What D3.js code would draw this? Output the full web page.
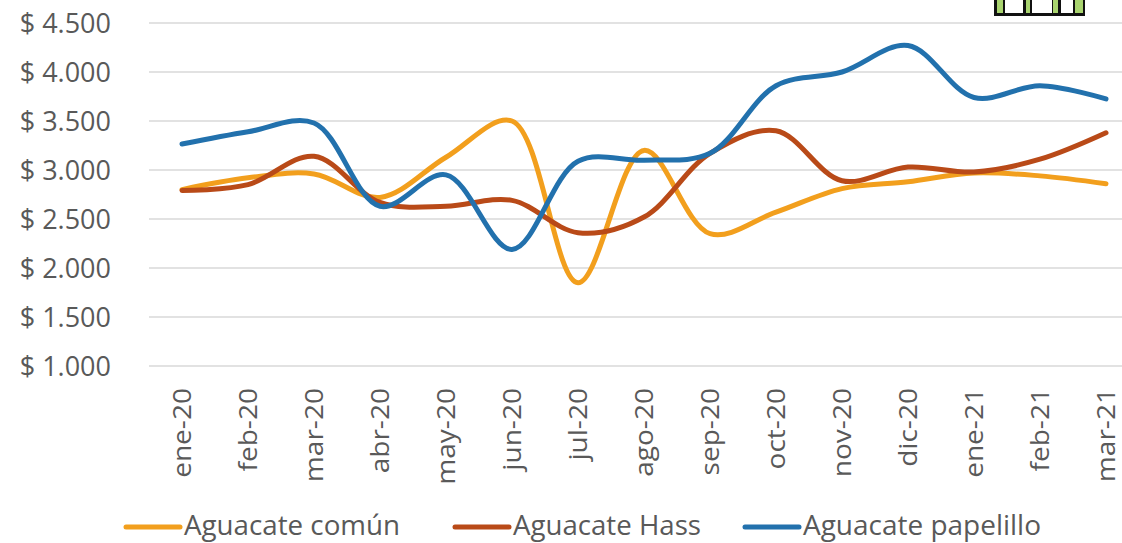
<!DOCTYPE html>
<html>
<head>
<meta charset="utf-8">
<script src="https://cdn.jsdelivr.net/npm/d3@7"></script>
<style>
  body { margin: 0; background: #fff; }
  text { font-family: "Open Sans", sans-serif; fill: #595959; }
</style>
</head>
<body>
<div id="chart"></div>
<script>
var months = ["ene-20", "feb-20", "mar-20", "abr-20", "may-20", "jun-20", "jul-20", "ago-20",
    "sep-20", "oct-20", "nov-20", "dic-20", "ene-21", "feb-21", "mar-21"];
var comun = [2800, 2920, 2960, 2720, 3130, 3500, 1850, 3200, 2350, 2570, 2810, 2880, 2970, 2940, 2860];
var hass = [2790, 2850, 3140, 2670, 2630, 2690, 2360, 2520, 3170, 3400, 2890, 3030, 2980, 3110, 3380];
var papelillo = [3265, 3390, 3480, 2630, 2950, 2190, 3090, 3100, 3170, 3860, 4000, 4270, 3740, 3860, 3725];
var yTicks = [1000, 1500, 2000, 2500, 3000, 3500, 4000, 4500];
var seriesNames = ["Aguacate común", "Aguacate Hass", "Aguacate papelillo"];
var seriesColors = ["#F29F1D", "#B94A18", "#2271AD"];

var width = 1122, height = 543;
var svg = d3.select("#chart").append("svg")
    .attr("width", width)
    .attr("height", height);

var x = d3.scaleBand().domain(months).range([149, 1139]);
var y = d3.scaleLinear().domain([1000, 4500]).range([366, 23]);

// gridlines
svg.append("g").selectAll("line")
    .data(yTicks)
    .enter().append("line")
    .attr("x1", 149).attr("x2", width)
    .attr("y1", function (d) { return y(d); })
    .attr("y2", function (d) { return y(d); })
    .attr("stroke", "#d9d9d9")
    .attr("stroke-width", 1.5);

// y axis labels
var fmt = function (d) { return "$ " + d3.format(",")(d).replace(",", "."); };
svg.append("g").selectAll("text")
    .data(yTicks)
    .enter().append("text")
    .attr("x", 111)
    .attr("y", function (d) { return y(d); })
    .attr("dy", "0.36em")
    .attr("text-anchor", "end")
    .style("font-size", "27px")
    .text(fmt);

// x axis labels
svg.append("g").selectAll("text")
    .data(months)
    .enter().append("text")
    .attr("transform", function (d) {
        return "translate(" + (x(d) + x.bandwidth() / 2) + ",388) rotate(-90) scale(1.08,1)";
    })
    .attr("dy", "0.36em")
    .attr("text-anchor", "end")
    .style("font-size", "26px")
    .text(function (d) { return d; });

// lines
var line = d3.line()
    .x(function (d, i) { return x(months[i]) + x.bandwidth() / 2; })
    .y(function (d) { return y(d); })
    .curve(d3.curveCatmullRom.alpha(0.5));

[comun, hass, papelillo].forEach(function (s, i) {
    svg.append("path")
        .datum(s)
        .attr("d", line)
        .attr("fill", "none")
        .attr("stroke", seriesColors[i])
        .attr("stroke-width", 5)
        .attr("stroke-linecap", "round")
        .attr("stroke-linejoin", "round");
});

// legend
var legendX = [126, 455, 745];
var lg = svg.append("g").selectAll("g")
    .data(seriesNames)
    .enter().append("g")
    .attr("transform", function (d, i) { return "translate(" + legendX[i] + ",527)"; });
lg.append("line")
    .attr("x1", 0).attr("x2", 54)
    .attr("stroke", function (d, i) { return seriesColors[i]; })
    .attr("stroke-width", 5)
    .attr("stroke-linecap", "round");
lg.append("text")
    .attr("x", 58)
    .attr("y", -2)
    .attr("dy", "0.36em")
    .style("font-size", "27px")
    .attr("textLength", function (d, i) { return [216, 188, 238][i]; })
    .attr("lengthAdjust", "spacingAndGlyphs")
    .text(function (d) { return d; });

// little icon cut off at the top right
var icon = svg.append("g");
icon.append("rect").attr("x", 994).attr("y", -4).attr("width", 91).attr("height", 20).attr("fill", "#111");
var cells = [[997, 6, "#A9D46F"], [1005, 18, "#fff"], [1026, 4, "#A9D46F"], [1032, 20, "#fff"],
    [1053, 5, "#A9D46F"], [1061, 12, "#fff"], [1075, 8, "#A9D46F"]];
icon.selectAll("rect.c").data(cells).enter().append("rect")
    .attr("class", "c")
    .attr("x", function (d) { return d[0]; })
    .attr("y", 0)
    .attr("width", function (d) { return d[1]; })
    .attr("height", 13)
    .attr("fill", function (d) { return d[2]; });
</script>
</body>
</html>
